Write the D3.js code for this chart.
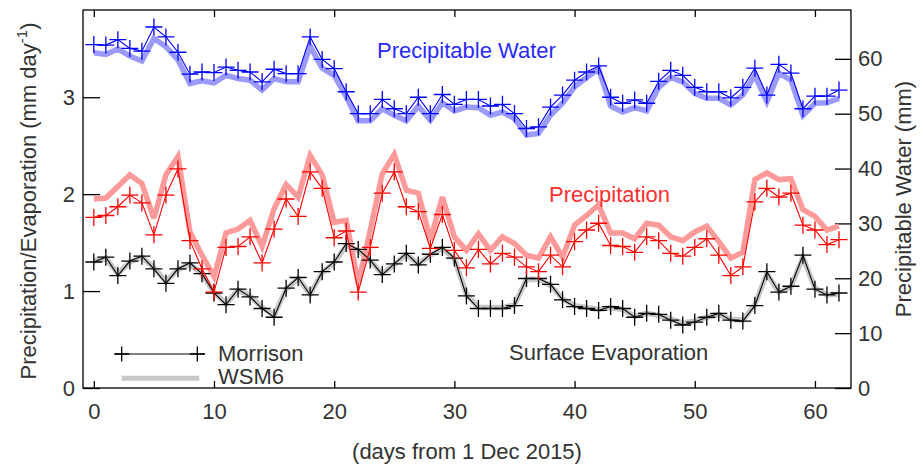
<!DOCTYPE html>
<html>
<head>
<meta charset="utf-8">
<script src="https://cdn.jsdelivr.net/npm/d3@7"></script>
<style>
  html, body { margin: 0; padding: 0; background: #fff; }
  svg { display: block; font-family: "Liberation Sans", Arial, Helvetica, sans-serif; }
</style>
</head>
<body>
<svg id="chart" width="923" height="465"></svg>
<script>
// ---- data ----
const days = d3.range(0, 63);

const pwMorrison = [
  62.6, 62.5, 63.5, 61.9, 61.4, 65.8, 64.0, 61.2, 57.2, 57.6,
  57.5, 58.5, 57.9, 57.6, 55.8, 58.1, 57.3, 57.3, 64.0, 59.9,
  58.2, 54.0, 50.0, 50.0, 52.6, 50.9, 50.0, 53.0, 50.0, 53.5,
  51.7, 52.6, 52.6, 51.4, 51.7, 50.0, 47.3, 47.6, 51.2, 53.4,
  56.1, 57.6, 58.7, 53.0, 51.9, 52.5, 51.9, 55.9, 57.9, 57.0,
  54.8, 54.0, 54.0, 52.9, 54.8, 58.3, 53.4, 59.0, 57.4, 50.9,
  53.2, 53.2, 54.3];
const pwWSM6 = [
  61.1, 60.8, 61.8, 60.5, 59.6, 63.7, 62.2, 59.8, 55.5, 56.0,
  55.6, 57.0, 56.4, 56.1, 54.3, 56.4, 55.8, 55.8, 62.3, 58.3,
  57.0, 53.1, 48.7, 48.7, 50.9, 49.7, 48.7, 51.4, 48.8, 52.0,
  50.5, 51.2, 51.1, 49.7, 50.3, 49.1, 46.1, 46.4, 49.7, 51.9,
  54.9, 56.6, 58.2, 51.4, 50.3, 51.1, 50.5, 54.8, 56.6, 55.8,
  53.7, 52.8, 52.8, 51.6, 53.4, 57.0, 52.2, 57.4, 56.1, 49.7,
  51.9, 52.0, 52.8];
const precipMorrison = [
  1.76, 1.78, 1.87, 1.99, 1.91, 1.58, 1.99, 2.26, 1.52, 1.23,
  0.99, 1.45, 1.46, 1.56, 1.29, 1.64, 1.95, 1.77, 2.23, 2.06,
  1.55, 1.62, 0.99, 1.45, 2.01, 2.23, 1.87, 1.82, 1.44, 1.79,
  1.42, 1.24, 1.43, 1.28, 1.39, 1.35, 1.25, 1.20, 1.37, 1.25,
  1.51, 1.63, 1.70, 1.47, 1.46, 1.40, 1.56, 1.52, 1.39, 1.36,
  1.45, 1.54, 1.37, 1.16, 1.25, 1.92, 2.06, 1.97, 2.01, 1.68,
  1.63, 1.48, 1.53];
const precipWSM6 = [
  1.95, 1.96, 2.08, 2.20, 2.11, 1.75, 2.20, 2.39, 1.61, 1.37,
  1.15, 1.60, 1.64, 1.73, 1.46, 1.85, 2.10, 1.97, 2.40, 2.20,
  1.71, 1.73, 1.08, 1.63, 2.21, 2.41, 2.04, 2.01, 1.53, 1.97,
  1.56, 1.42, 1.59, 1.42, 1.56, 1.49, 1.37, 1.34, 1.56, 1.35,
  1.68, 1.78, 1.89, 1.60, 1.60, 1.54, 1.70, 1.68, 1.56, 1.52,
  1.61, 1.67, 1.51, 1.34, 1.40, 2.15, 2.22, 2.15, 2.16, 1.84,
  1.77, 1.63, 1.67];
const evapMorrison = [
  1.30, 1.35, 1.16, 1.31, 1.36, 1.23, 1.08, 1.23, 1.29, 1.18,
  0.98, 0.86, 1.02, 0.94, 0.82, 0.73, 1.03, 1.14, 0.96, 1.20,
  1.30, 1.49, 1.43, 1.32, 1.17, 1.28, 1.39, 1.27, 1.38, 1.45,
  1.34, 0.95, 0.82, 0.82, 0.82, 0.85, 1.13, 1.13, 1.07, 0.91,
  0.84, 0.82, 0.80, 0.84, 0.82, 0.73, 0.77, 0.76, 0.70, 0.65,
  0.68, 0.73, 0.77, 0.70, 0.69, 0.85, 1.20, 0.99, 1.05, 1.37,
  1.02, 0.96, 0.98];
const evapWSM6 = [
  1.31, 1.34, 1.18, 1.30, 1.35, 1.24, 1.10, 1.22, 1.28, 1.17,
  0.99, 0.87, 1.01, 0.95, 0.83, 0.75, 1.02, 1.13, 0.97, 1.19,
  1.29, 1.47, 1.42, 1.31, 1.18, 1.27, 1.38, 1.28, 1.37, 1.44,
  1.33, 0.97, 0.83, 0.83, 0.83, 0.86, 1.12, 1.12, 1.06, 0.92,
  0.85, 0.83, 0.81, 0.83, 0.81, 0.74, 0.77, 0.75, 0.71, 0.67,
  0.69, 0.73, 0.76, 0.71, 0.70, 0.86, 1.18, 0.99, 1.04, 1.35,
  1.03, 0.96, 0.97];

const xTicks = [0, 10, 20, 30, 40, 50, 60];
const leftTicks = [0, 1, 2, 3];
const rightTicks = [0, 10, 20, 30, 40, 50, 60];

// ---- layout ----
const L = 83, R = 851, T = 10, B = 388;
const svg = d3.select("#chart");
const x = d3.scaleLinear().domain([-0.9, 63]).range([L, R]);
const yL = d3.scaleLinear().domain([0, 3.9]).range([B, T]);
const yR = d3.scaleLinear().domain([0, 68.9]).range([B, T]);
const textCol = "#333";
const fs = 22;

// frame
svg.append("rect").attr("x", L).attr("y", T).attr("width", R - L).attr("height", B - T)
  .attr("fill", "none").attr("stroke", "#000").attr("stroke-width", 1.3);

// axes with inward ticks
function styleAxis(g) {
  g.select(".domain").remove();
  g.selectAll(".tick line").attr("stroke", "#000").attr("stroke-width", 1.3);
  g.selectAll(".tick text").attr("fill", textCol)
    .style("font-size", fs + "px").style("font-family", "'Liberation Sans', Arial, sans-serif");
}
svg.append("g").attr("transform", `translate(0,${B})`)
  .call(d3.axisBottom(x).tickValues(xTicks).tickSizeInner(-7).tickSizeOuter(0).tickPadding(15).tickFormat(d3.format("d")))
  .call(styleAxis);
svg.append("g").attr("transform", `translate(0,${T})`)
  .call(d3.axisTop(x).tickValues(xTicks).tickSizeInner(-7).tickSizeOuter(0).tickFormat(""))
  .call(styleAxis);
svg.append("g").attr("transform", `translate(${L},0)`)
  .call(d3.axisLeft(yL).tickValues(leftTicks).tickSizeInner(-17).tickSizeOuter(0).tickPadding(8).tickFormat(d3.format("d")))
  .call(styleAxis);
svg.append("g").attr("transform", `translate(${R},0)`)
  .call(d3.axisRight(yR).tickValues(rightTicks).tickSizeInner(-16).tickSizeOuter(0).tickPadding(7).tickFormat(d3.format("d")))
  .call(styleAxis);

// series drawing
const plot = svg.append("g");
function thick(vals, ys, color) {
  plot.append("path").datum(vals)
    .attr("d", d3.line().x((d, i) => x(days[i])).y(d => ys(d)))
    .attr("fill", "none").attr("stroke", color).attr("stroke-width", 5.5)
    .attr("stroke-linejoin", "miter").attr("stroke-miterlimit", 3);
}
const plusPath = "M-8.5,0H8.5M0,-8.5V8.5";
function thin(vals, ys, color) {
  plot.append("path").datum(vals)
    .attr("d", d3.line().x((d, i) => x(days[i])).y(d => ys(d)))
    .attr("fill", "none").attr("stroke", color).attr("stroke-width", 1.1);
  plot.append("g").selectAll("path").data(vals).join("path")
    .attr("transform", (d, i) => `translate(${x(days[i])},${ys(d)})`)
    .attr("d", plusPath).attr("stroke", color).attr("stroke-width", 1.3).attr("fill", "none");
}
thick(evapWSM6, yL, "#c8c8c8");
thick(precipWSM6, yL, "#ff9a9a");
thick(pwWSM6, yR, "#9a9aff");
thin(evapMorrison, yL, "#000000");
thin(precipMorrison, yL, "#ff0000");
thin(pwMorrison, yR, "#0000ff");

// annotations
svg.append("text").attr("x", 377).attr("y", 57.5).attr("fill", "#2a2aff")
  .style("font-size", fs + "px").text("Precipitable Water");
svg.append("text").attr("x", 549).attr("y", 201.5).attr("fill", "#ff3030")
  .style("font-size", fs + "px").text("Precipitation");
svg.append("text").attr("x", 509).attr("y", 360).attr("fill", textCol)
  .style("font-size", fs + "px").text("Surface Evaporation");

// legend
svg.append("line").attr("x1", 115).attr("x2", 205).attr("y1", 354).attr("y2", 354)
  .attr("stroke", "#000").attr("stroke-width", 1.1);
svg.selectAll(".lgm").data([121.7, 197.3]).join("path").attr("class", "lgm")
  .attr("transform", d => `translate(${d},354)`).attr("d", "M-7.5,0H7.5M0,-7.5V7.5")
  .attr("stroke", "#000").attr("stroke-width", 1.3);
svg.append("line").attr("x1", 121.7).attr("x2", 199.3).attr("y1", 378.3).attr("y2", 378.3)
  .attr("stroke", "#c8c8c8").attr("stroke-width", 5);
svg.append("text").attr("x", 218).attr("y", 360.5).attr("fill", textCol)
  .style("font-size", fs + "px").text("Morrison");
svg.append("text").attr("x", 218).attr("y", 383.5).attr("fill", textCol)
  .style("font-size", fs + "px").text("WSM6");

// axis titles
svg.append("text").attr("x", (L + R) / 2 + 0).attr("y", 459).attr("text-anchor", "middle")
  .attr("fill", textCol).style("font-size", fs + "px").text("(days from 1 Dec 2015)");
const lt = svg.append("text").attr("transform", "translate(36,201) rotate(-90)")
  .attr("text-anchor", "middle").attr("fill", textCol).style("font-size", fs + "px");
lt.append("tspan").text("Precipitation/Evaporation (mm day");
lt.append("tspan").attr("dy", -9).style("font-size", "15px").text("-1");
lt.append("tspan").attr("dy", 9).text(")");
svg.append("text").attr("transform", "translate(911,199) rotate(-90)")
  .attr("text-anchor", "middle").attr("fill", textCol).style("font-size", fs + "px")
  .text("Precipitable Water (mm)");
</script>
</body>
</html>
